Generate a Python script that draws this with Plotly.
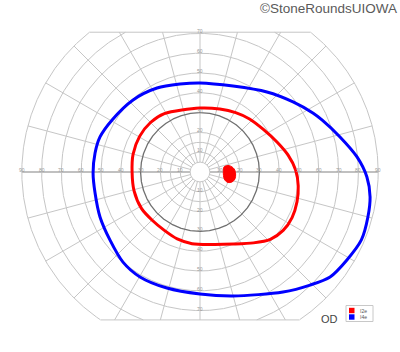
import numpy as np
import plotly.graph_objects as go

# ---- data (degrees of visual field; x: temporal/nasal, y: superior/inferior) ----
blue_x = [0, 16.7, 33.8, 47, 57, 61.6, 70.7, 79.3, 84.3, 85.9, 84.8, 81.5, 74.2, 65.7, 55.6, 41.9, 16.7, 0,
          -16.7, -30.3, -38.9, -45.5, -50.5, -53, -54, -53, -50.5, -44.4, -33.8, -21.7, -10.1]
blue_y = [45, 43.4, 40.4, 35.4, 29.8, 26.3, 17.7, 7.6, -2.5, -12.6, -22.7, -34.3, -44.4, -53, -57.1, -60.6, -62.6, -61.6,
          -58.6, -53, -45.5, -34.3, -22.7, -10.6, -0.5, 9.6, 17.7, 26.3, 36.4, 42.4, 44.4]

red_x = [0, 10, 18, 25, 32, 39, 44.5, 48.3, 49.6, 49, 46.5, 42, 35.5, 27, 17, 6, -4, -11.5, -18, -24,
         -29.5, -33.3, -34.3, -33.8, -30.5, -25, -18]
red_y = [32.3, 31.8, 30, 26.8, 21.5, 15, 8.5, 1, -7, -15, -23, -29.5, -34, -35.8, -36.4, -36.6, -36.2, -33.8, -29.5, -24.5,
         -18.5, -9.5, 0, 9, 18, 25, 29.5]

spot_x = [12.2, 14.8, 17.2, 18.0, 17.6, 16.2, 14.2, 12.5, 11.8]
spot_y = [2.6, 3.2, 1.6, -1.0, -3.6, -5.0, -5.3, -4.0, -1.0]

ring_radii = [5, 10, 15, 20, 40, 50, 60, 70, 80, 90]
dark_ring = 30
h_labels = [10, 20, 30, 40, 50, 60, 70, 80, 90]
v_labels = [10, 20, 30, 40, 50, 60, 70]
meridian_step = 15
TOP_CUT = 70.6
BOTTOM_CUT = -74.7
OUTER = 90

series = [("I2e", red_x, red_y, "#ff0000"), ("I4e", blue_x, blue_y, "#0000ff")]

fig = go.Figure()

# ---- grid ----
def ring(r):
    t = np.linspace(0, 2 * np.pi, 2881)
    x = r * np.cos(t)
    y = r * np.sin(t)
    mask = (y > TOP_CUT) | (y < BOTTOM_CUT)
    x = np.where(mask, np.nan, x)
    y = np.where(mask, np.nan, y)
    return list(x) + [None], list(y) + [None]

gx, gy = [], []
for r in ring_radii:
    a, b = ring(r)
    gx += a
    gy += b
for deg in range(0, 360, meridian_step):
    if deg in (0, 180):
        continue
    th = np.radians(deg)
    s, c = np.sin(th), np.cos(th)
    rmax = OUTER
    if s > 1e-9:
        rmax = min(rmax, TOP_CUT / s)
    elif s < -1e-9:
        rmax = min(rmax, BOTTOM_CUT / s)
    gx += [5 * c, rmax * c, None]
    gy += [5 * s, rmax * s, None]
for yc in (TOP_CUT, BOTTOM_CUT):
    hw = np.sqrt(OUTER ** 2 - yc ** 2)
    gx += [-hw, hw, None]
    gy += [yc, yc, None]

fig.add_trace(go.Scatter(x=gx, y=gy, mode="lines", line=dict(color="#c6c6c6", width=1),
                         hoverinfo="skip", showlegend=False))
# horizontal meridian (thicker)
fig.add_trace(go.Scatter(x=[-OUTER, -5, None, 5, OUTER], y=[0, 0, None, 0, 0], mode="lines",
                         line=dict(color="#c0c0c0", width=2), hoverinfo="skip", showlegend=False))
# 30 deg ring darker
dx, dy = ring(dark_ring)
fig.add_trace(go.Scatter(x=dx, y=dy, mode="lines", line=dict(color="#707070", width=1.3),
                         hoverinfo="skip", showlegend=False))

# ---- isopters ----
for name, xs, ys, col in series:
    fig.add_trace(go.Scatter(x=xs + xs[:1], y=ys + ys[:1], mode="lines", name=name,
                             line=dict(color=col, width=3, shape="spline", smoothing=0.8),
                             showlegend=False))
fig.add_trace(go.Scatter(x=spot_x + spot_x[:1], y=spot_y + spot_y[:1], mode="lines", fill="toself",
                         fillcolor="#ff0000", line=dict(color="#ff0000", width=1, shape="spline"),
                         showlegend=False))

# ---- scale labels ----
ann = []
for v in h_labels:
    for sgn in (-1, 1):
        ann.append(dict(x=sgn * v, y=0, text=str(v), showarrow=False, yshift=2,
                        font=dict(size=5, color="#999999", family="Liberation Sans")))
for v in v_labels:
    for sgn in (-1, 1):
        ann.append(dict(x=0, y=sgn * v, text=str(v), showarrow=False, yshift=2,
                        font=dict(size=5, color="#999999", family="Liberation Sans")))

# ---- legend & text ----
W, H = 400, 352
def px(x):
    return x / W
def py(y):
    return 1 - y / H

shapes = [dict(type="rect", xref="paper", yref="paper", x0=px(346), x1=px(373), y0=py(321.5), y1=py(305.5),
               line=dict(color="#c8c8c8", width=1), fillcolor="white")]
for i, (name, xs, ys, col) in enumerate(series):
    yc = 310.5 + i * 6.5
    shapes.append(dict(type="rect", xref="paper", yref="paper", x0=px(349), x1=px(354.5),
                       y0=py(yc + 2.7), y1=py(yc - 2.7), line=dict(width=0), fillcolor=col))
    ann.append(dict(xref="paper", yref="paper", x=px(358), y=py(yc), text=name, showarrow=False,
                    xanchor="left", yanchor="middle", font=dict(size=5, color="#555555", family="Liberation Sans")))

ann.append(dict(xref="paper", yref="paper", x=px(329), y=py(318.5), text="OD", showarrow=False,
                xanchor="center", yanchor="middle", font=dict(size=11, color="#444444", family="Liberation Sans")))
ann.append(dict(xref="paper", yref="paper", x=px(399), y=py(8.5), text="©StoneRoundsUIOWA", showarrow=False,
                xanchor="right", yanchor="middle", font=dict(size=13.5, color="#5a5a5a", family="Liberation Sans")))

S = 1.98
fig.update_layout(
    width=W, height=H, margin=dict(l=0, r=0, t=0, b=0),
    paper_bgcolor="white", plot_bgcolor="white",
    xaxis=dict(range=[-200 / S, 200 / S], visible=False, fixedrange=True),
    yaxis=dict(range=[(172 - 352) / S, 172 / S], visible=False, fixedrange=True),
    annotations=ann, shapes=shapes, showlegend=False,
)
fig.write_html("out.html")
